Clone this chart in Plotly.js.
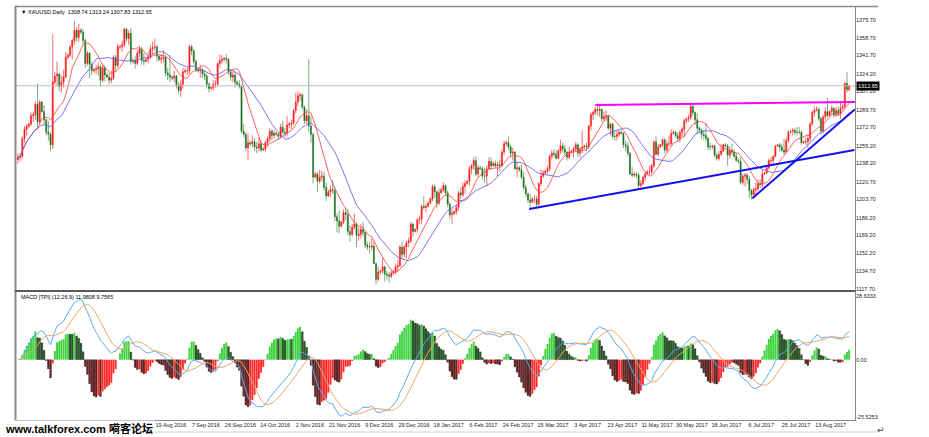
<!DOCTYPE html>
<html><head><meta charset="utf-8">
<script src="https://cdn.plot.ly/plotly-3.0.1.min.js"></script>
<style>html,body{margin:0;padding:0;background:#fff;}#chart{width:929px;height:437px;}</style>
</head><body><div id="chart"></div>
<script>
// Daily XAUUSD bars (one per trading session, Sunday sessions included), 6 Jun 2016 .. 30 Aug 2017
const openP = [
1242,1244,1245,1262,1271,1274, 1276,1284,1285,1295,1278,1297, 1288,1280,1268,1266,1256,1316, 1322,1324,1312,1316,1321,1340,
1342,1350,1356,1366,1359,1366, 1364,1356,1334,1344,1333,1327, 1328,1329,1331,1318,1330,1323, 1321,1318,1320,1340,1332,1350,
1350,1352,1367,1358,1363,1336, 1337,1334,1344,1348,1337,1336, 1338,1340,1348,1349,1350,1341, 1338,1339,1340,1325,1323,1321,
1320,1322,1313,1308,1314,1326, 1327,1327,1350,1346,1336,1328, 1327,1328,1324,1322,1314,1310, 1311,1314,1314,1334,1337,1338,
1339,1338,1326,1321,1323,1316, 1314,1312,1269,1266,1253,1258, 1257,1259,1254,1253,1257,1251, 1252,1258,1262,1269,1265,1267,
1266,1264,1273,1268,1267,1275, 1276,1277,1289,1297,1303,1304, 1292,1279,1284,1274,1266,1225, 1228,1221,1225,1226,1215,1207,
1211,1213,1212,1187,1183,1178, 1182,1191,1189,1173,1170,1177, 1180,1169,1170,1175,1172,1160, 1158,1158,1159,1142,1127,1134,
1135,1139,1132,1131,1130,1133, 1134,1139,1140,1158,1151,1158, 1162,1164,1180,1173,1175,1184, 1185,1197,1196,1197,1200,1204,
1216,1211,1200,1210,1213,1217, 1210,1199,1189,1190,1192,1196, 1210,1208,1216,1219,1221,1233, 1236,1241,1228,1234,1233,1226,
1226,1233,1240,1236,1238,1236, 1237,1236,1249,1257,1258,1254, 1248,1249,1233,1234,1232,1225, 1215,1209,1203,1201,1204,1204,
1199,1219,1226,1229,1231,1233, 1245,1248,1247,1243,1250,1255, 1252,1249,1244,1249,1250,1252, 1256,1248,1252,1254,1255,1254,
1274,1285,1287,1290,1289,1290, 1281,1283,1284,1272,1276,1264, 1264,1266,1268,1267,1256,1255, 1248,1228,1227,1228,1227,1217,
1219,1225,1228,1230,1230,1236, 1259,1247,1254,1256,1261,1251, 1257,1257,1267,1268,1265,1262, 1268,1271,1279,1281,1282,1293,
1287,1280,1272,1270,1266,1265, 1262,1254,1254,1255,1246,1243, 1247,1250,1256,1255,1246,1251, 1249,1245,1241,1240,1220,1226,
1227,1223,1212,1208,1213,1214, 1219,1218,1228,1229,1234,1241, 1241,1245,1255,1256,1254,1251, 1249,1260,1268,1269,1270,1268,
1268,1268,1258,1259,1259,1262, 1276,1287,1289,1290,1281,1269, 1283,1288,1284,1288,1291,1285, 1289,1286,1291,1293,1315,1308.74];
const highP = [
1248,1248,1264,1274,1276,1277, 1287,1288,1298,1315,1299,1298, 1294,1281,1279,1268,1362,1326, 1336,1325,1322,1328,1345,1344,
1352,1358,1375,1369,1372,1368, 1367,1358,1346,1345,1336,1330, 1333,1335,1333,1333,1332,1325, 1325,1327,1342,1342,1353,1352,
1356,1368,1368,1366,1368,1339, 1341,1347,1351,1350,1344,1339, 1345,1352,1355,1358,1352,1342, 1343,1347,1342,1330,1342,1323,
1327,1323,1316,1318,1330,1329, 1330,1352,1352,1348,1338,1330, 1333,1330,1328,1324,1316,1312, 1318,1318,1335,1343,1342,1340,
1343,1339,1328,1327,1326,1318, 1318,1314,1276,1268,1267,1260, 1265,1262,1259,1263,1261,1254, 1260,1264,1272,1271,1270,1269,
1268,1276,1279,1272,1284,1278, 1280,1291,1306,1307,1306,1305, 1294,1290,1338,1283,1268,1230, 1230,1232,1231,1230,1220,1213,
1217,1222,1215,1190,1193,1183, 1194,1195,1194,1179,1180,1190, 1182,1176,1180,1182,1173,1163, 1163,1166,1164,1143,1139,1136,
1147,1140,1135,1134,1136,1136, 1142,1146,1160,1163,1160,1164, 1167,1182,1181,1176,1186,1188, 1199,1207,1200,1202,1206,1218,
1218,1212,1214,1215,1220,1218, 1212,1201,1195,1193,1199,1212, 1215,1220,1222,1222,1236,1238, 1244,1245,1237,1236,1235,1234,
1236,1244,1244,1240,1241,1240, 1242,1252,1260,1260,1264,1256, 1253,1250,1240,1236,1237,1230, 1218,1210,1209,1206,1208,1207,
1220,1232,1232,1232,1236,1247, 1251,1252,1251,1252,1261,1258, 1256,1250,1254,1251,1254,1259, 1258,1254,1270,1256,1258,1275,
1287,1289,1292,1296,1295,1291, 1288,1289,1285,1277,1277,1269, 1270,1270,1270,1268,1260,1259, 1249,1235,1230,1230,1229,1222,
1226,1231,1232,1236,1238,1260, 1264,1257,1257,1262,1262,1260, 1265,1271,1270,1270,1268,1270, 1273,1281,1282,1285,1296,1294,
1288,1286,1274,1272,1270,1277, 1264,1258,1256,1256,1248,1250, 1257,1257,1258,1257,1254,1257, 1252,1248,1243,1244,1228,1229,
1229,1226,1214,1215,1220,1223, 1223,1232,1230,1236,1243,1244, 1246,1256,1257,1258,1257,1262, 1263,1270,1270,1272,1272,1273,
1273,1270,1260,1263,1266,1278, 1289,1293,1293,1292,1283,1285, 1292,1301,1289,1294,1292,1292, 1293,1298,1295,1316,1326,1313.24];
const lowP = [
1238,1240,1243,1258,1265,1272, 1274,1278,1280,1271,1276,1287, 1276,1265,1260,1250,1252,1314, 1312,1307,1306,1311,1320,1338,
1340,1338,1352,1355,1355,1362, 1352,1330,1332,1320,1323,1325, 1324,1322,1312,1316,1317,1320, 1314,1315,1318,1326,1330,1347,
1345,1350,1355,1352,1333,1334, 1329,1332,1340,1333,1332,1335, 1334,1338,1342,1346,1336,1336, 1334,1335,1322,1318,1316,1318,
1316,1310,1305,1302,1310,1325, 1323,1324,1342,1333,1326,1325, 1320,1320,1318,1310,1306,1308, 1308,1311,1312,1330,1334,1336,
1334,1323,1317,1316,1311,1313, 1310,1267,1263,1250,1241,1255, 1254,1250,1248,1250,1249,1250, 1250,1254,1259,1260,1262,1265,
1261,1262,1266,1263,1264,1272, 1271,1275,1286,1293,1298,1290, 1276,1276,1268,1258,1219,1224, 1211,1219,1221,1212,1202,1206,
1206,1209,1183,1172,1171,1177, 1180,1184,1169,1163,1168,1175, 1158,1164,1166,1168,1157,1155, 1152,1155,1142,1122,1125,1132,
1133,1125,1127,1124,1128,1131, 1132,1135,1139,1146,1148,1147, 1158,1162,1168,1172,1172,1180, 1180,1194,1191,1196,1199,1202,
1205,1195,1198,1209,1211,1207, 1196,1185,1180,1189,1189,1193, 1204,1206,1209,1218,1217,1228, 1232,1226,1225,1232,1223,1220,
1216,1232,1232,1235,1234,1226, 1230,1235,1246,1255,1251,1244, 1241,1232,1225,1230,1223,1213, 1206,1200,1194,1200,1200,1196,
1197,1216,1224,1228,1228,1230, 1242,1244,1242,1243,1247,1248, 1246,1241,1242,1248,1244,1250, 1245,1244,1248,1252,1250,1252,
1270,1280,1285,1284,1283,1278, 1279,1279,1270,1265,1262,1260, 1260,1264,1266,1253,1250,1245, 1227,1225,1225,1224,1214,1214,
1217,1221,1227,1227,1228,1234, 1246,1245,1253,1254,1248,1249, 1254,1255,1266,1263,1259,1258, 1264,1263,1277,1278,1280,1284,
1275,1266,1268,1262,1261,1259, 1251,1251,1252,1244,1241,1241, 1245,1249,1254,1236,1243,1246, 1243,1240,1238,1218,1218,1216,
1218,1205,1204,1204,1206,1212, 1214,1214,1227,1228,1232,1236, 1236,1244,1254,1250,1249,1246, 1249,1258,1267,1265,1265,1265,
1266,1256,1257,1256,1253,1259, 1274,1283,1288,1279,1267,1267, 1280,1282,1283,1285,1282,1283, 1284,1281,1290,1291,1306,1307.83];
const closeP = [
1244,1245,1262,1271,1274,1276, 1284,1285,1295,1278,1297,1288, 1280,1268,1266,1256,1316,1322, 1324,1312,1316,1321,1340,1342,
1350,1356,1366,1359,1366,1364, 1356,1334,1344,1333,1327,1328, 1329,1331,1318,1330,1323,1321, 1318,1320,1340,1332,1350,1350,
1352,1367,1358,1363,1336,1337, 1334,1344,1348,1337,1336,1338, 1340,1348,1349,1350,1341,1338, 1339,1340,1325,1323,1321,1320,
1322,1313,1308,1314,1326,1327, 1327,1350,1346,1336,1328,1327, 1328,1324,1322,1314,1310,1311, 1314,1314,1334,1337,1338,1339,
1338,1326,1321,1323,1316,1314, 1312,1269,1266,1253,1258,1257, 1259,1254,1253,1257,1251,1252, 1258,1262,1269,1265,1267,1266,
1264,1273,1268,1267,1275,1276, 1277,1289,1297,1303,1304,1292, 1279,1284,1274,1266,1225,1228, 1221,1225,1226,1215,1207,1211,
1213,1212,1187,1183,1178,1182, 1191,1189,1173,1170,1177,1180, 1169,1170,1175,1172,1160,1158, 1158,1159,1142,1127,1134,1135,
1139,1132,1131,1130,1133,1134, 1139,1140,1158,1151,1158,1162, 1164,1180,1173,1175,1184,1185, 1197,1196,1197,1200,1204,1216,
1211,1200,1210,1213,1217,1210, 1199,1189,1190,1192,1196,1210, 1208,1216,1219,1221,1233,1236, 1241,1228,1234,1233,1226,1226,
1233,1240,1236,1238,1236,1237, 1236,1249,1257,1258,1254,1248, 1249,1233,1234,1232,1225,1215, 1209,1203,1201,1204,1204,1199,
1219,1226,1229,1231,1233,1245, 1248,1247,1243,1250,1255,1252, 1249,1244,1249,1250,1252,1256, 1248,1252,1254,1255,1254,1274,
1285,1287,1290,1289,1290,1281, 1283,1284,1272,1276,1264,1264, 1266,1268,1267,1256,1255,1248, 1228,1227,1228,1227,1217,1219,
1225,1228,1230,1230,1236,1259, 1247,1254,1256,1261,1251,1257, 1257,1267,1268,1265,1262,1268, 1271,1279,1281,1282,1293,1287,
1280,1272,1270,1266,1265,1262, 1254,1254,1255,1246,1243,1247, 1250,1256,1255,1246,1251,1249, 1245,1241,1240,1220,1226,1227,
1223,1212,1208,1213,1214,1219, 1218,1228,1229,1234,1241,1241, 1245,1255,1256,1254,1251,1249, 1260,1268,1269,1270,1268,1268,
1268,1258,1259,1259,1262,1276, 1287,1289,1290,1281,1269,1283, 1288,1284,1288,1291,1285,1289, 1286,1291,1293,1315,1309,1312.65];

// Axis labels (the first four date labels are hidden under the site watermark in the reference)
const priceTickVals = [1375.70,1358.70,1341.70,1324.20,1307.20,1289.70,1272.70,1255.20,1238.20,1220.70,1203.70,1186.20,1169.20,1152.20,1134.70,1117.70];
const dateLabels = ['19 Aug 2016','7 Sep 2016','26 Sep 2016','14 Oct 2016','2 Nov 2016','21 Nov 2016','9 Dec 2016','29 Dec 2016','18 Jan 2017','6 Feb 2017','24 Feb 2017','15 Mar 2017','3 Apr 2017','23 Apr 2017','11 May 2017','30 May 2017','18 Jun 2017','6 Jul 2017','25 Jul 2017','13 Aug 2017'];
const dateLabelBars = [64,80,96,112,128,144,160,176,192,208,224,240,256,272,288,304,320,336,352,368];
const macdTickText = ['28.6333','0.00','-25.5253'];
const macdMax = 28.6333, macdMin = -25.5253;
const lastPrice = 1312.65;

// Hand-drawn lines (bar index, price)
const resistX = [266, 385.7], resistY = [1294.2, 1297.1];
const supportAX = [235.6, 385.4], supportAY = [1194.4, 1251.0];
const supportBX = [338.4, 385.7], supportBY = [1204.7, 1290.1];

// ---- indicators computed from the closes ----
const idx = closeP.map((_, i) => i);
function sma(arr, p) { return arr.map((_, i) => { const s = Math.max(0, i - p + 1); let t = 0; for (let k = s; k <= i; k++) t += arr[k]; return t / (i - s + 1); }); }
function ema(arr, p) { const a = 2 / (p + 1); const out = []; arr.forEach((v, i) => out.push(i === 0 ? v : out[i - 1] + a * (v - out[i - 1]))); return out; }
const maFast = sma(closeP, 10);
const maSlow = sma(closeP, 21);
const e12 = ema(closeP, 12), e26 = ema(closeP, 26);
const macd = e12.map((v, i) => v - e26[i]);
const signal = sma(macd, 9);
const hist = macd.map((v, i) => 2 * (v - signal[i]));
const DK_GREEN = '#2b5c2b', LT_GREEN = '#3fd23f', DK_RED = '#6e2424', LT_RED = '#ff2b2b';
const histColor = hist.map((h, i) => {
  const p = i > 0 ? hist[i - 1] : 0;
  if (h >= 0) return h >= p ? LT_GREEN : DK_GREEN;
  return h < p ? DK_RED : LT_RED;
});
const histLine = histColor.map(c => (c === DK_GREEN || c === DK_RED) ? 'rgba(0,0,0,0.8)' : 'rgba(0,0,0,0)');

const F = 'Liberation Sans, Arial, sans-serif';
const traces = [
  { type: 'candlestick', x: idx, open: openP, high: highP, low: lowP, close: closeP, xaxis: 'x', yaxis: 'y',
    increasing: { line: { color: 'rgba(255,40,40,0.85)', width: 0.8 }, fillcolor: '#ff0000' },
    decreasing: { line: { color: 'rgba(40,120,40,0.75)', width: 0.8 }, fillcolor: '#0a5a0a' },
    whiskerwidth: 0, hoverinfo: 'skip' },
  { type: 'scatter', mode: 'lines', x: idx, y: maFast, line: { color: 'rgba(255,70,70,0.85)', width: 1 }, hoverinfo: 'skip' },
  { type: 'scatter', mode: 'lines', x: idx, y: maSlow, line: { color: 'rgba(95,95,235,0.85)', width: 1 }, hoverinfo: 'skip' },
  { type: 'scatter', mode: 'lines', x: resistX, y: resistY, line: { color: '#ff00ff', width: 2 }, hoverinfo: 'skip' },
  { type: 'scatter', mode: 'lines', x: supportAX, y: supportAY, line: { color: '#1010f0', width: 2 }, hoverinfo: 'skip' },
  { type: 'scatter', mode: 'lines', x: supportBX, y: supportBY, line: { color: '#1010f0', width: 2 }, hoverinfo: 'skip' },
  { type: 'bar', x: idx, y: hist, xaxis: 'x', yaxis: 'y2', marker: { color: histColor, line: { color: histLine, width: 0.3 } }, hoverinfo: 'skip' },
  { type: 'scatter', mode: 'lines', x: idx, y: macd, xaxis: 'x', yaxis: 'y2', line: { color: '#5aaaf2', width: 1 }, hoverinfo: 'skip' },
  { type: 'scatter', mode: 'lines', x: idx, y: signal, xaxis: 'x', yaxis: 'y2', line: { color: '#f0a468', width: 1 }, hoverinfo: 'skip' }
];

// pixel -> paper helpers (plot area 16..855 x 7..420)
const px = v => (v - 16) / 839, py = v => (420 - v) / 413;
const gray = '#8a8a8a';
const shapes = [
  { type: 'line', xref: 'paper', yref: 'y', x0: 0, x1: 1, y0: lastPrice, y1: lastPrice, line: { color: '#b4c0cc', width: 1 } },
  { type: 'line', xref: 'paper', yref: 'paper', x0: px(15.5), x1: px(15.5), y0: py(6), y1: py(432), line: { color: gray, width: 2 } },
  { type: 'line', xref: 'paper', yref: 'paper', x0: px(15), x1: px(878), y0: py(6.5), y1: py(6.5), line: { color: gray, width: 1.5 } },
  { type: 'line', xref: 'paper', yref: 'paper', x0: px(855.5), x1: px(855.5), y0: py(6), y1: py(421), line: { color: gray, width: 1 } },
  { type: 'line', xref: 'paper', yref: 'paper', x0: px(15), x1: px(855.5), y0: py(291), y1: py(291), line: { color: '#5a5a5a', width: 2 } },
  { type: 'line', xref: 'paper', yref: 'paper', x0: px(15), x1: px(855.5), y0: py(420.5), y1: py(420.5), line: { color: gray, width: 1 } },
  { type: 'line', xref: 'paper', yref: 'paper', x0: px(15), x1: px(878), y0: py(432), y1: py(432), line: { color: '#d0d0d0', width: 1 } }
];

const annotations = [
  { xref: 'paper', yref: 'paper', x: px(19), y: py(12), xanchor: 'left', yanchor: 'middle', showarrow: false,
    text: '▼ XAUUSD,Daily  1308.74 1313.24 1307.83 1312.65', font: { family: F, size: 5.5, color: '#000' } },
  { xref: 'paper', yref: 'paper', x: px(19), y: py(297), xanchor: 'left', yanchor: 'middle', showarrow: false,
    text: 'MACD [TPI] (12,26,9) 11.9808 9.7565', font: { family: F, size: 5.5, color: '#000' } },
  { xref: 'paper', yref: 'y', x: px(856), y: lastPrice, xanchor: 'left', yanchor: 'middle', showarrow: false,
    text: lastPrice.toFixed(2), bgcolor: '#000', borderpad: 1, font: { family: F, size: 5.5, color: '#fff' } },
  { xref: 'paper', yref: 'paper', x: px(3), y: py(428), xanchor: 'left', yanchor: 'middle', showarrow: false,
    text: '<b>www.talkforex.com 嗬客论坛</b>', bgcolor: '#fff', font: { family: 'Liberation Sans, Noto Sans CJK SC, sans-serif', size: 11, color: '#000' } },
  { xref: 'paper', yref: 'paper', x: px(881), y: py(430), xanchor: 'center', yanchor: 'middle', showarrow: false,
    text: '↵', font: { family: 'DejaVu Sans', size: 9, color: '#333' } }
];

const layout = {
  width: 929, height: 437, margin: { l: 16, r: 74, t: 7, b: 17, pad: 0 },
  paper_bgcolor: '#fff', plot_bgcolor: '#fff', showlegend: false, bargap: 0.12,
  font: { family: F, size: 5.5, color: '#222' },
  xaxis: { range: [-0.92, 385.7], anchor: 'y2', showgrid: false, zeroline: false, showline: false, ticks: '',
    tickvals: dateLabelBars.map(b => b + 6.5), ticktext: dateLabels, tickfont: { family: F, size: 5.5, color: '#222' },
    rangeslider: { visible: false }, fixedrange: true },
  yaxis: { domain: [0.3148, 1], range: [1116.8, 1388.2], side: 'right', anchor: 'x', showgrid: false, zeroline: false,
    showline: false, ticks: '', tickvals: priceTickVals, ticktext: priceTickVals.map(v => v.toFixed(2)),
    tickfont: { family: F, size: 5.5, color: '#222' }, fixedrange: true },
  yaxis2: { domain: [0, 0.3099], range: [macdMin, macdMax], side: 'right', anchor: 'x', showgrid: false, zeroline: false,
    showline: false, ticks: '', tickvals: [26.9, 0, -24.3], ticktext: macdTickText,
    tickfont: { family: F, size: 5.5, color: '#222' }, fixedrange: true },
  shapes: shapes, annotations: annotations
};

Plotly.newPlot('chart', traces, layout, { staticPlot: true, displayModeBar: false });
</script></body></html>
